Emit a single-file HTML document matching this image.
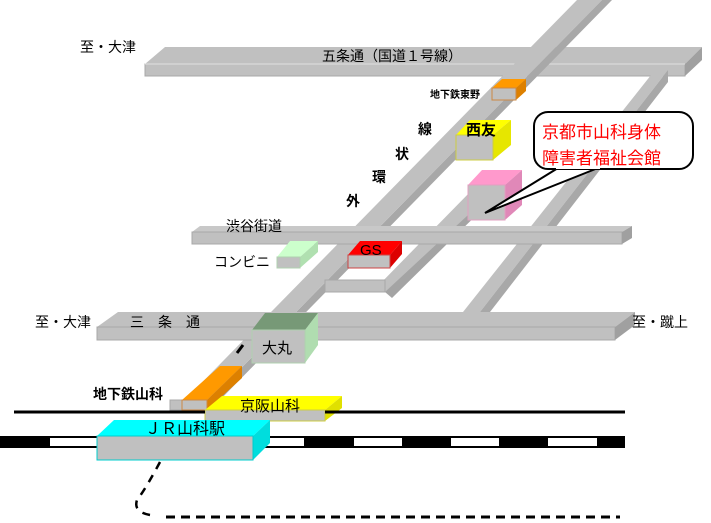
<!DOCTYPE html>
<html><head><meta charset="utf-8"><style>
html,body{margin:0;padding:0;background:#fff;}
svg{display:block;}
text{font-family:"Liberation Sans","Noto Sans CJK JP",sans-serif;font-size:14px;fill:#000;}
</style></head><body>
<svg width="711" height="523" viewBox="0 0 711 523" xmlns="http://www.w3.org/2000/svg">
<polygon points="145,64 165,47 702,47 685,64" fill="#c0c0c0"/>
<rect x="145" y="64" width="540" height="12" fill="#c0c0c0" stroke="#a8a8a8"/>
<polygon points="685,64 702,47 702,60 685,76" fill="#a0a0a0"/>
<line x1="145" y1="64" x2="685" y2="64" stroke="#e0e0e0"/>
<polygon points="463,312 655,70 668,70 480,312" fill="#c0c0c0"/>
<polygon points="480,312 668,70 668,82 490,312" fill="#a8a8a8"/>
<polygon points="577,0 602,0 200,410 175,410" fill="#c0c0c0"/>
<polygon points="602,0 612,0 215,405 205,405" fill="#a8a8a8"/>
<polygon points="372,292 472,190 495,190 392,292" fill="#c0c0c0"/>
<polygon points="385,292 495,190 502,190 392,298" fill="#a4a4a4"/>
<rect x="325" y="280" width="60" height="12" fill="#c0c0c0" stroke="#a8a8a8"/>
<polygon points="192,232 200,226 632,226 622,232" fill="#c8c8c8"/>
<rect x="192" y="232" width="430" height="12" fill="#c0c0c0" stroke="#a8a8a8"/>
<polygon points="622,232 632,226 632,238 622,244" fill="#a0a0a0"/>
<polygon points="97,327 118,312 635,312 615,327" fill="#c0c0c0"/>
<rect x="97" y="327" width="518" height="13" fill="#c0c0c0" stroke="#a8a8a8"/>
<polygon points="615,327 635,312 635,325 615,340" fill="#a0a0a0"/>
<polygon points="492,88 502,79 526,79 516,88" fill="#ff9900"/>
<polygon points="516,88 526,79 526,91 516,100" fill="#dd8000"/>
<rect x="492" y="88" width="24" height="12" fill="#c0c0c0" stroke="#cc8844"/>
<polygon points="456,135 470,120 511,120 493,135" fill="#ffff00"/>
<polygon points="493,135 511,120 511,145 493,160" fill="#e6e600"/>
<rect x="456" y="135" width="37" height="25" fill="#c0c0c0" stroke="#cccc44"/>
<polygon points="468,185 482,170 522,170 505,185" fill="#ff99cc"/>
<polygon points="505,185 522,170 522,205 505,220" fill="#e088b8"/>
<rect x="468" y="185" width="37" height="35" fill="#c0c0c0" stroke="#e0a0c0"/>
<polygon points="277,257 290,241 318,241 300,257" fill="#ccffcc"/>
<polygon points="300,257 318,241 318,252 300,268" fill="#b0e0b0"/>
<rect x="277" y="257" width="23" height="11" fill="#c0c0c0" stroke="#b0d0b0"/>
<polygon points="348,255 360,241 402,241 390,255" fill="#ff0000"/>
<polygon points="390,255 402,241 402,254 390,268" fill="#dd0000"/>
<rect x="348" y="255" width="42" height="13" fill="#c0c0c0" stroke="#cc4444"/>
<polygon points="252,330 265,313 318,313 305,330" fill="#779977"/>
<polygon points="305,330 318,313 318,345 305,363" fill="#b0ddb0"/>
<rect x="252" y="330" width="53" height="33" fill="#c0c0c0" stroke="#b0d0b0"/>
<line x1="237" y1="353" x2="243" y2="345" stroke="#000" stroke-width="3"/>
<polygon points="182,400 220,366 242,366 207,400" fill="#ff9900"/>
<polygon points="207,400 242,366 242,378 207,410" fill="#dd8000"/>
<rect x="170" y="400" width="12" height="10" fill="#c0c0c0" stroke="#a8a8a8"/>
<rect x="182" y="400" width="25" height="10" fill="#c0c0c0" stroke="#cc8844"/>
<polygon points="205,410 222,396 342,396 325,410" fill="#ffff00"/>
<polygon points="325,410 342,396 342,408 325,421" fill="#e0e000"/>
<rect x="205" y="410" width="120" height="11" fill="#c0c0c0" stroke="#cccc44"/>
<line x1="14" y1="412" x2="205" y2="412" stroke="#000" stroke-width="3"/>
<line x1="325" y1="412" x2="625" y2="412" stroke="#000" stroke-width="3"/>
<rect x="0" y="436" width="625" height="12" fill="#000"/>
<g fill="#fff">
<rect x="50" y="438" width="49" height="8"/><rect x="151" y="438" width="49" height="8"/>
<rect x="255" y="438" width="49" height="8"/><rect x="354" y="438" width="48" height="8"/>
<rect x="451" y="438" width="48" height="8"/><rect x="548" y="438" width="49" height="8"/>
</g>
<polygon points="97,436 114,420 270,420 253,436" fill="#00ffff"/>
<polygon points="253,436 270,420 270,443 253,460" fill="#00dddd"/>
<rect x="97" y="436" width="156" height="24" fill="#c0c0c0" stroke="#00cccc"/>
<path d="M160,462 Q145,490 137,500 Q133,512 150,515" fill="none" stroke="#000" stroke-width="2.5" stroke-dasharray="8,7"/>
<line x1="166" y1="517" x2="620" y2="517" stroke="#000" stroke-width="3" stroke-dasharray="9,6"/>
<path d="M558,168 L485,213 L598,168" fill="#fff" stroke="#000" stroke-width="2"/>
<rect x="534" y="112" width="159" height="57" rx="14" fill="#fff" stroke="#000" stroke-width="2"/>
<rect x="556" y="166" width="44" height="3" fill="#fff"/>
<text x="542" y="138" style="font-size:17px;fill:#ff0000">京都市山科身体</text>
<text x="542" y="164" style="font-size:17px;fill:#ff0000">障害者福祉会館</text>
<text x="80" y="52">至・大津</text>
<text x="322" y="61">五条通（国道１号線）</text>
<text x="430" y="98" style="font-size:10px;font-weight:bold">地下鉄東野</text>
<text x="466" y="135" style="font-weight:bold;font-size:15px">西友</text>
<text x="418" y="134" style="font-weight:bold">線</text>
<text x="395" y="159" style="font-weight:bold">状</text>
<text x="372" y="182" style="font-weight:bold">環</text>
<text x="346" y="206" style="font-weight:bold">外</text>
<text x="226" y="231">渋谷街道</text>
<text x="214" y="267">コンビニ</text>
<text x="360" y="255" style="font-size:15px">GS</text>
<text x="35" y="327">至・大津</text>
<text x="130" y="327">三　条　通</text>
<text x="632" y="327">至・蹴上</text>
<text x="262" y="353" style="font-size:15px">大丸</text>
<text x="93" y="399" style="font-weight:bold">地下鉄山科</text>
<text x="240" y="411" style="font-size:15px">京阪山科</text>
<text x="145" y="434" style="font-size:16px">ＪＲ山科駅</text>
</svg>
</body></html>
